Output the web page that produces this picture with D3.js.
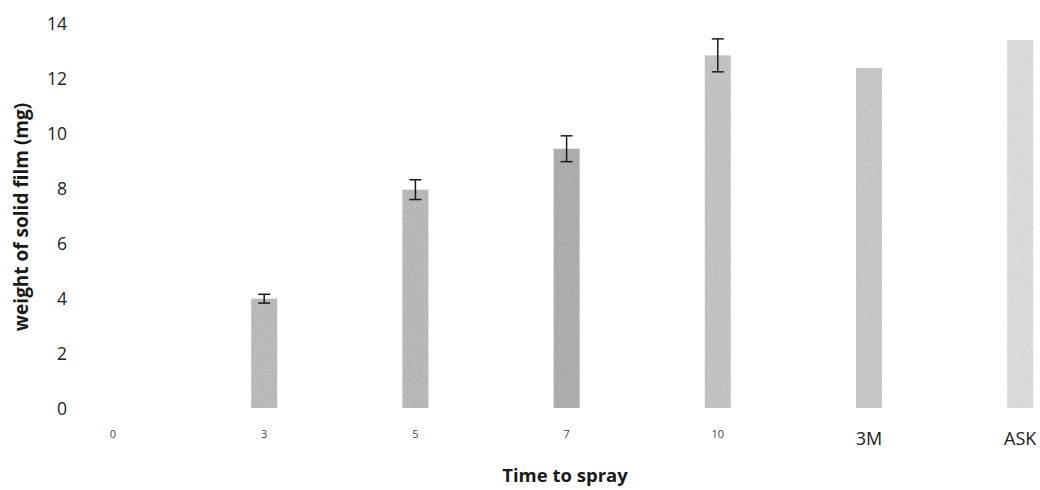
<!DOCTYPE html>
<html>
<head>
<meta charset="utf-8">
<script src="https://cdn.jsdelivr.net/npm/d3@7"></script>
<style>
  body { margin: 0; background: #fff; }
  svg { display: block; }
</style>
</head>
<body>
<div id="chart"></div>
<script>
// Data
var categories = ["0", "3", "5", "7", "10", "3M", "ASK"];
var weights    = [0, 3.98, 7.95, 9.44, 12.84, 12.38, 13.4];
var errors     = [0, 0.16, 0.36, 0.47, 0.6, 0, 0];
var barColors  = ["#d0d0d0", "#bdbdbd", "#bcbcbc", "#b0b0b0", "#c6c6c6", "#cbcbcb", "#dedede"];
var yTicks     = [0, 2, 4, 6, 8, 10, 12, 14];

var width = 1040, height = 490;

var svg = d3.select("#chart")
    .append("svg")
    .attr("width", width)
    .attr("height", height);

// speckled look of the scanned bars
var filter = svg.append("defs").append("filter")
    .attr("id", "speckle")
    .attr("x", 0).attr("y", 0).attr("width", 1).attr("height", 1);
filter.append("feTurbulence")
    .attr("type", "fractalNoise")
    .attr("baseFrequency", 0.8)
    .attr("numOctaves", 2)
    .attr("seed", 3)
    .attr("result", "noise");
filter.append("feColorMatrix")
    .attr("in", "noise")
    .attr("type", "matrix")
    .attr("values", "0 0 0 0 0  0 0 0 0 0  0 0 0 0 0  1.6 0 0 0 -0.55")
    .attr("result", "dots");
filter.append("feComposite")
    .attr("in", "dots").attr("in2", "SourceGraphic")
    .attr("operator", "in")
    .attr("result", "dotsIn");
filter.append("feComponentTransfer")
    .attr("in", "dotsIn")
    .attr("result", "dotsSoft")
    .append("feFuncA").attr("type", "linear").attr("slope", 0.22);
filter.append("feMerge").call(function(m){
  m.append("feMergeNode").attr("in", "SourceGraphic");
  m.append("feMergeNode").attr("in", "dotsSoft");
});

// Scales
var xScale = d3.scaleBand()
    .domain(categories)
    .range([37.4, 1095.8])
    .paddingInner(0.828)
    .paddingOuter(0.414);

var yScale = d3.scaleLinear()
    .domain([0, 14])
    .range([408, 23.5]);

var data = categories.map(function(c, i){
  return {cat: c, value: weights[i], err: errors[i], color: barColors[i]};
});

// Bars
svg.selectAll(".bar")
    .data(data)
    .enter()
    .append("rect")
    .attr("class", "bar")
    .attr("x", function(d){ return xScale(d.cat); })
    .attr("y", function(d){ return yScale(d.value); })
    .attr("width", xScale.bandwidth())
    .attr("height", function(d){ return yScale(0) - yScale(d.value); })
    .attr("fill", function(d){ return d.color; })
    .attr("filter", "url(#speckle)");

// Error bars (only where there is one)
var errG = svg.selectAll(".err")
    .data(data.filter(function(d){ return d.err > 0; }))
    .enter()
    .append("g")
    .attr("class", "err")
    .attr("stroke", "#1a1a1a")
    .attr("stroke-width", 1.5);

errG.append("line")
    .attr("x1", function(d){ return xScale(d.cat) + xScale.bandwidth() / 2; })
    .attr("x2", function(d){ return xScale(d.cat) + xScale.bandwidth() / 2; })
    .attr("y1", function(d){ return yScale(d.value + d.err); })
    .attr("y2", function(d){ return yScale(d.value - d.err); });

errG.selectAll(".cap")
    .data(function(d){ return [d.value + d.err, d.value - d.err].map(function(v){ return {cat: d.cat, v: v}; }); })
    .enter()
    .append("line")
    .attr("x1", function(d){ return xScale(d.cat) + xScale.bandwidth() / 2 - 6; })
    .attr("x2", function(d){ return xScale(d.cat) + xScale.bandwidth() / 2 + 6; })
    .attr("y1", function(d){ return yScale(d.v); })
    .attr("y2", function(d){ return yScale(d.v); });

// Y axis (labels only)
var yAxis = d3.axisLeft(yScale)
    .tickValues(yTicks)
    .tickSize(0)
    .tickPadding(0);

var gY = svg.append("g")
    .attr("transform", "translate(" + 67 + ",0)")
    .call(yAxis);
gY.select(".domain").remove();
gY.selectAll("text")
    .attr("dy", "0.35em")
    .style("font-family", "'Open Sans', sans-serif")
    .style("font-size", "17.5px")
    .style("fill", "#222");

// X axis (labels only)
var xAxis = d3.axisBottom(xScale)
    .tickSize(0)
    .tickPadding(0);

var gX = svg.append("g")
    .attr("transform", "translate(0," + 432 + ")")
    .call(xAxis);
gX.select(".domain").remove();
gX.selectAll("text")
    .attr("dy", function(d){ return (d === "3M" || d === "ASK") ? "0.71em" : "0.5em"; })
    .style("font-family", "'Open Sans', sans-serif")
    .style("font-size", function(d){ return (d === "3M" || d === "ASK") ? "18px" : "11px"; })
    .style("fill", function(d){ return (d === "3M" || d === "ASK") ? "#222" : "#444"; });

// Axis titles
svg.append("text")
    .attr("transform", "translate(" + 28 + "," + 217 + ")rotate(-90)")
    .attr("text-anchor", "middle")
    .style("font-family", "'Open Sans', sans-serif")
    .style("font-weight", "bold")
    .style("font-size", "19px")
    .style("fill", "#1a1a1a")
    .text("weight of solid film (mg)");

svg.append("text")
    .attr("x", 565)
    .attr("y", 482)
    .attr("text-anchor", "middle")
    .style("font-family", "'Open Sans', sans-serif")
    .style("font-weight", "bold")
    .style("font-size", "18.5px")
    .style("fill", "#1a1a1a")
    .text("Time to spray");
</script>
</body>
</html>
